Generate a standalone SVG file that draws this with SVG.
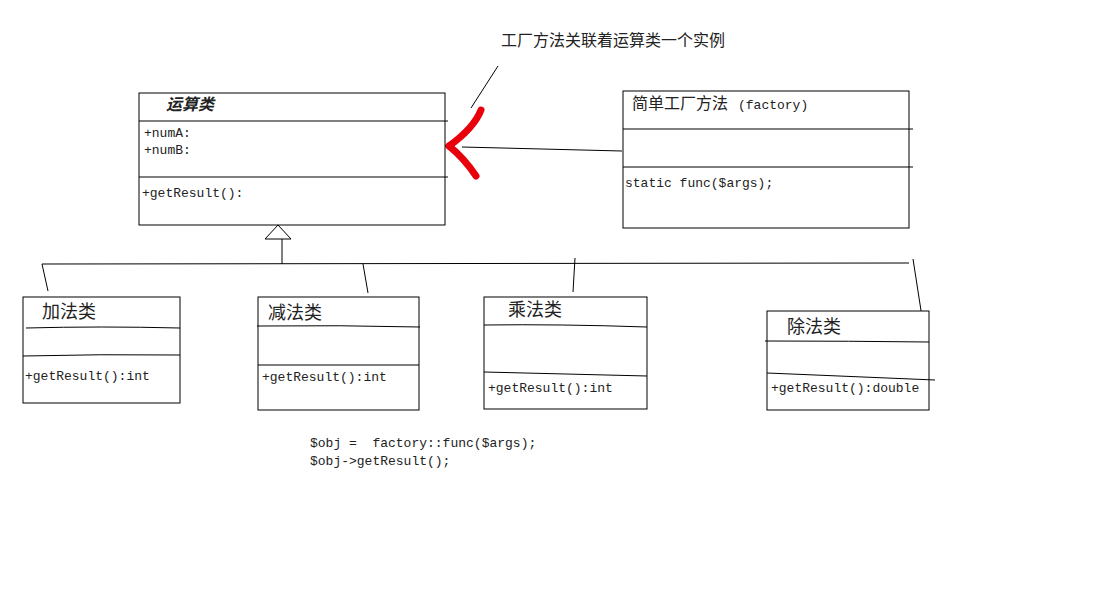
<svg xmlns="http://www.w3.org/2000/svg" width="1118" height="608" viewBox="0 0 1118 608">
<style>
.box{fill:#fff;stroke:#000;stroke-width:1}
.ln{fill:none;stroke:#000;stroke-width:1}
.cn{font-family:"Noto Sans CJK SC","Noto Sans",sans-serif;font-size:18px;fill:#222}
.mono{font-family:"Liberation Mono","DejaVu Sans Mono",monospace;font-size:13px;fill:#222;white-space:pre}
.red{fill:none;stroke:#e8000b;stroke-width:7;stroke-linecap:round;stroke-linejoin:round}
</style>
<rect width="1118" height="608" fill="#fff"/>
<g id="connectors">
  <polygon points="278,225 265,239 291,239" class="box"/>
  <path class="ln" d="M282,239 V264"/>
  <path class="ln" d="M42,264 L909,263"/>
  <path class="ln" d="M42,264 L48,291"/>
  <path class="ln" d="M363,264 L368,293"/>
  <path class="ln" d="M575,258 L573,292"/>
  <path class="ln" d="M913,259 L922,317"/>
  <path class="ln" d="M462,147 L622,151"/>
  <path class="ln" d="M498,66 L471,108"/>
  <path class="red" d="M481,110 Q474,128 449,146"/>
  <path class="red" d="M449,146 Q464,158 476,176"/>
</g>
<g id="note">
  <text x="501" y="46" class="cn" style="font-size:16px">工厂方法关联着运算类一个实例</text>
</g>
<g id="operation">
  <rect x="139" y="93" width="306" height="132" class="box"/>
  <path class="ln" d="M139,121 H448 M139,177 H448"/>
  <text x="166" y="110" class="cn" style="font-size:16px;font-weight:bold;font-style:italic">运算类</text>
  <text x="144" y="137" class="mono">+numA:</text>
  <text x="144" y="154" class="mono">+numB:</text>
  <text x="142" y="197" class="mono">+getResult():</text>
</g>
<g id="factory">
  <rect x="623" y="91" width="286" height="137" class="box"/>
  <path class="ln" d="M623,129 H913 M623,167 H913"/>
  <text x="632" y="109" class="cn" style="font-size:16px">简单工厂方法</text>
  <text x="738" y="109" class="mono">(factory)</text>
  <text x="625" y="187" class="mono">static func($args);</text>
</g>
<g id="add">
  <rect x="23" y="297" width="157" height="106" class="box"/>
  <path class="ln" d="M26,328 Q100,326 180,328 M23,356 Q100,354 180,355"/>
  <text x="42" y="318" class="cn">加法类</text>
  <text x="25" y="380" class="mono">+getResult():int</text>
</g>
<g id="sub">
  <rect x="258" y="297" width="161" height="113" class="box"/>
  <path class="ln" d="M257,326 Q340,325 420,327 M258,365 H419"/>
  <text x="268" y="319" class="cn">减法类</text>
  <text x="262" y="381" class="mono">+getResult():int</text>
</g>
<g id="mul">
  <rect x="484" y="297" width="163" height="112" class="box"/>
  <path class="ln" d="M484,325 Q560,324 647,327 M484,372 L647,376"/>
  <text x="508" y="316" class="cn">乘法类</text>
  <text x="488" y="392" class="mono">+getResult():int</text>
</g>
<g id="div">
  <rect x="767" y="311" width="162" height="99" class="box"/>
  <path class="ln" d="M765,341 Q850,341 929,342 M767,373 L935,380"/>
  <text x="787" y="333" class="cn">除法类</text>
  <text x="771" y="392" class="mono">+getResult():double</text>
</g>
<g id="code">
  <text x="310" y="447" class="mono" xml:space="preserve">$obj =  factory::func($args);</text>
  <text x="310" y="465" class="mono">$obj-&gt;getResult();</text>
</g>
</svg>
